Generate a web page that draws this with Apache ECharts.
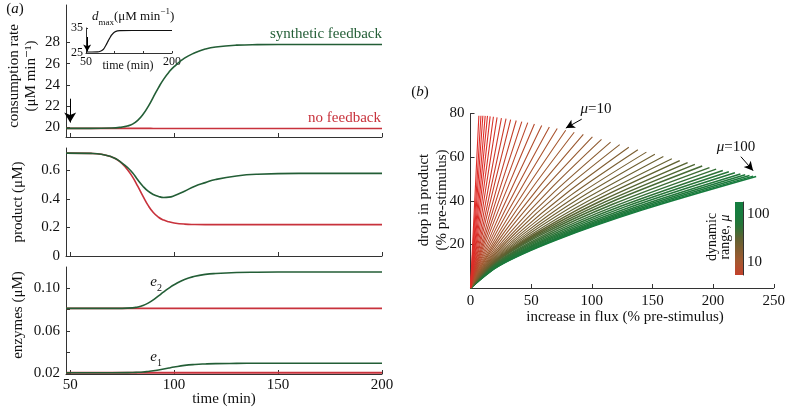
<!DOCTYPE html>
<html><head><meta charset="utf-8">
<script src="https://cdn.jsdelivr.net/npm/echarts@6/dist/echarts.min.js"></script>
<style>html,body{margin:0;padding:0;background:#fff}#c{width:788px;height:408px}</style>
</head><body><div id="c"></div>
<script>
// ---------- panel (a) data ----------
const tRate = [48,60,70,75,77.5,80,82.5,85,87.5,90,92.5,95,97.5,100,105,110,115,120,130,140,160,200];
const rateSynthetic = [19.9,19.9,19.93,20.02,20.12,20.3,20.65,21.2,21.95,22.85,23.75,24.55,25.2,25.72,26.52,27.03,27.38,27.58,27.75,27.8,27.82,27.82];
const rateNone = [19.9,19.9,19.9,19.9,19.9,19.9,19.9,19.9,19.9,19.89,19.89,19.88,19.88,19.88,19.88,19.88,19.88,19.88,19.88,19.88,19.88,19.88];

const tProd = [48,60,65,70,72.5,75,77.5,80,82.5,85,87.5,90,92.5,95,97.5,100,105,110,115,120,130,140,160,200];
const prodSynthetic = [0.722,0.72,0.714,0.695,0.678,0.652,0.622,0.585,0.535,0.49,0.455,0.432,0.418,0.411,0.413,0.423,0.455,0.49,0.515,0.537,0.562,0.574,0.58,0.58];
const prodNone = [0.722,0.72,0.714,0.695,0.677,0.648,0.607,0.555,0.49,0.42,0.355,0.305,0.272,0.252,0.24,0.232,0.224,0.221,0.22,0.22,0.22,0.22,0.22,0.22];

const tEnz = [48,70,80,82.5,85,87.5,90,92.5,95,97.5,100,105,110,115,120,130,140,160,200];
const e2Synthetic = [0.0812,0.0812,0.0817,0.0826,0.084,0.0862,0.0893,0.093,0.0968,0.1003,0.1035,0.1085,0.1115,0.1133,0.1142,0.1151,0.1154,0.1156,0.1156];
const e2None = [0.0812,0.0812,0.0812,0.0812,0.0812,0.0812,0.0812,0.0812,0.0812,0.0812,0.0812,0.0812,0.0812,0.0812,0.0812,0.0812,0.0812,0.0812,0.0812];
const e1Synthetic = [0.0205,0.0205,0.0207,0.0209,0.0212,0.0217,0.0223,0.0231,0.024,0.025,0.0259,0.0274,0.0283,0.0288,0.0291,0.0293,0.0294,0.0294,0.0294];
const e1None = [0.0204,0.0204,0.0204,0.0204,0.0204,0.0204,0.0204,0.0204,0.0204,0.0204,0.0204,0.0204,0.0204,0.0204,0.0204,0.0204,0.0204,0.0204,0.0204];

const tInset = [50,60,70,75,80,82.5,85,87.5,90,92.5,95,100,105,110,130,160,200];
const dmax = [25.4,25.4,25.45,25.7,26.4,27.2,28.2,29.3,30.4,31.4,32.3,33.4,33.85,33.95,34,34,34];

const rateTicks = [20,22,24,26,28];
const prodTicks = [0,0.2,0.4,0.6];
const enzTicks = [0.02,0.04,0.06,0.08,0.10];
const enzLabels = [0.02,0.06,0.10];
const timeTicks = [50,100,150,200];
const insetXLabels = [50,200];
const insetYLabels = [25,35];
const stimulusArrow = [[50,22.7],[50,20.45]];
const insetArrow = [[52,31.4],[52,25.6]];

// ---------- panel (b) data ----------
const mu = [2.0,2.19,2.39,2.61,2.85,3.12,3.41,3.72,4.07,4.45,4.86,5.31,5.81,6.35,6.94,7.58,8.29,9.06,9.9,10.8,11.8,12.9,14.1,15.5,16.9,18.5,20.2,22.0,24.1,26.3,28.8,31.5,34.4,37.6,41.1,44.9,49.0,53.6,58.6,64.0,70.0,76.5,83.6,91.3,100];
const endX = [6.9,8.6,10.2,12.1,14.0,16.2,18.9,21.9,25.5,29.3,33.1,37.7,42.3,47.2,52.7,58.7,65.0,71.5,78.5,85.5,93.0,100.5,108.0,115.5,123.0,130.5,138.0,145.0,152.0,159.0,166.0,172.5,179.0,185.0,191.0,197.0,202.5,208.0,213.0,218.0,222.5,226.5,230.0,233.0,235.5];
const endY = [79.0,79.0,79.0,78.9,78.9,78.7,78.5,78.2,77.9,77.6,77.2,76.8,76.3,75.8,75.2,74.5,73.8,73.1,72.3,71.4,70.4,69.3,68.1,66.9,65.7,64.5,63.4,62.3,61.3,60.3,59.3,58.4,57.5,56.7,55.9,55.2,54.5,53.9,53.3,52.8,52.3,51.9,51.6,51.3,51.1];
// y of each line read at 10 %, 30 % and 60 % of its horizontal extent
const y10 = [7.9,7.9,7.9,7.9,7.9,7.9,8.1,8.3,8.4,8.6,8.8,8.9,9.1,9.3,9.4,9.5,9.7,9.8,9.9,10.0,10.2,10.2,10.3,10.4,10.4,10.5,10.5,10.6,10.7,10.7,10.8,10.9,11.0,11.1,11.2,11.0,10.9,10.8,10.6,10.5,10.4,10.4,10.3,10.2,10.2];
const y30 = [23.7,23.7,23.7,23.7,23.7,23.7,24.0,24.2,24.4,24.6,24.8,24.9,25.1,25.2,25.4,25.4,25.5,25.6,25.6,25.6,25.6,25.5,25.3,25.2,25.1,24.9,24.8,24.7,24.6,24.5,24.4,24.3,24.3,24.2,24.1,23.8,23.5,23.2,22.9,22.7,22.5,22.3,22.2,22.1,22.0];
const y60 = [47.4,47.4,47.4,47.3,47.3,47.3,47.5,47.5,47.6,47.7,47.7,47.7,47.6,47.5,47.4,47.2,47.0,46.8,46.5,46.2,45.8,45.3,44.8,44.2,43.7,43.1,42.6,42.1,41.6,41.1,40.7,40.3,39.9,39.5,39.1,38.6,38.1,37.7,37.3,36.9,36.6,36.3,36.1,35.9,35.7];
const fluxTicks = [0,50,100,150,200,250];
const dropTicks = [0,20,40,60,80];
const dropLabels = [20,40,60,80];
const arrowMu10 = [[91.7,77.4],[78.6,73.3]];
const arrowMu100 = [[222.9,60.2],[233.0,53.8]];
const cbRange = [5.26, 181];
const cbLabels = [10, 100];
const cbMinor = [6,7,8,9,10,20,30,40,50,60,70,80,90,100];

// ---------- styling ----------
const FONT = "'Liberation Serif','DejaVu Serif','Times New Roman',serif";
const GREEN = '#235e36', RED = '#c8323c', AXC = '#333';
const cStops = [[Math.log10(3),[222,45,40]],[1,[165,88,48]],[1.5,[95,98,50]],[1.75,[40,116,56]],[2,[22,124,62]],[2.3,[20,126,64]]];
function muColor(m){
  const l = Math.log10(m);
  if (l <= cStops[0][0]) return 'rgb('+cStops[0][1].join(',')+')';
  for (let i=1;i<cStops.length;i++){
    if (l <= cStops[i][0]){
      const a=cStops[i-1], b=cStops[i], f=(l-a[0])/(b[0]-a[0]);
      return 'rgb('+a[1].map((v,j)=>Math.round(v+(b[1][j]-v)*f)).join(',')+')';
    }
  }
  return 'rgb('+cStops[cStops.length-1][1].join(',')+')';
}
const zip = (xs, ys) => xs.map((x,i)=>[x, ys[i]]);

function ax(o){
  return Object.assign({
    type:'value', gridIndex:o.grid, min:o.min, max:o.max,
    axisLine:{show:true, onZero:false, lineStyle:{color:AXC, width:1}},
    axisTick:{show:true, inside:true, length:o.tl||4, customValues:o.ticks, lineStyle:{color:AXC}},
    axisLabel:{show:!!o.labels, customValues:o.labels, fontFamily:FONT, fontSize:o.fs||15, color:'#111', margin:o.margin||5, formatter:o.fmt},
    splitLine:{show:false}
  }, o.extra||{});
}

const grids = [
  {left:66, top:5, width:316, height:132},
  {left:66, top:148, width:316, height:108},
  {left:66, top:267, width:316, height:107},
  {left:86, top:28, width:86, height:25},
  {left:470.5, top:113.5, width:306, height:174.5},
  {left:735, top:202, width:8, height:73}
];

const xAxes = [
  ax({grid:0, min:48, max:200, ticks:timeTicks}),
  ax({grid:1, min:48, max:200, ticks:timeTicks}),
  ax({grid:2, min:48, max:200, ticks:timeTicks, labels:timeTicks, margin:4}),
  ax({grid:3, min:50, max:200, ticks:[50,100,150,200], tl:2, labels:insetXLabels, fs:12, margin:3}),
  ax({grid:4, min:0, max:250, ticks:fluxTicks, labels:fluxTicks, margin:6}),
  {type:'value', gridIndex:5, min:0, max:1, show:false}
];
const yAxes = [
  ax({grid:0, min:19.085, max:31.54, ticks:rateTicks, labels:rateTicks, margin:6}),
  ax({grid:1, min:0, max:0.758, ticks:prodTicks, labels:prodTicks, margin:6, fmt:v=>String(v)}),
  ax({grid:2, min:0.0193, max:0.1203, ticks:enzTicks, labels:enzLabels, margin:6, fmt:v=>v.toFixed(2)}),
  ax({grid:3, min:25, max:35, ticks:[25,35], tl:2, labels:insetYLabels, fs:12, margin:3}),
  ax({grid:4, min:0, max:80, ticks:dropTicks, labels:dropLabels, margin:6}),
  ax({grid:5, min:Math.log10(cbRange[0]), max:Math.log10(cbRange[1]), ticks:cbMinor.map(v=>Math.log10(v)), tl:2.5,
      labels:cbLabels.map(v=>Math.log10(v)), margin:4, fmt:v=>String(Math.round(Math.pow(10,v))), extra:{position:'right'}})
];

function lineS(xi, data, color, w, extra){
  return Object.assign({type:'line', xAxisIndex:xi, yAxisIndex:xi, data, smooth:0.5,
    showSymbol:false, symbol:'none', silent:true, lineStyle:{color, width:w}}, extra||{});
}
function arrowML(pairs, size){
  return {silent:true, symbol:['none','arrow'], symbolSize:size, label:{show:false}, emphasis:{disabled:true},
    lineStyle:{color:'#000', width:1, type:'solid'},
    data: pairs.map(p=>[{coord:p[0]},{coord:p[1]}])};
}

const series = [
  lineS(0, zip(tRate, rateNone), RED, 1.6, {markLine: arrowML([stimulusArrow],[9,10])}),
  lineS(0, zip(tRate, rateSynthetic), GREEN, 1.6),
  lineS(1, zip(tProd, prodNone), RED, 1.6),
  lineS(1, zip(tProd, prodSynthetic), GREEN, 1.6),
  lineS(2, zip(tEnz, e2None), RED, 1.6),
  lineS(2, zip(tEnz, e1None), RED, 2),
  lineS(2, zip(tEnz, e2Synthetic), GREEN, 1.6),
  lineS(2, zip(tEnz, e1Synthetic), GREEN, 1.6),
  lineS(3, zip(tInset, dmax), '#111', 1.2, {markLine: arrowML([insetArrow],[6,7])})
];
for (let k = endX.length-1; k >= 0; k--) {
  const X = endX[k];
  series.push({type:'line', xAxisIndex:4, yAxisIndex:4, silent:true, showSymbol:false, symbol:'none',
    smooth:0.3,
    data:[[0,0],[X*0.1, y10[k]],[X*0.3, y30[k]],[X*0.6, y60[k]],[X, endY[k]]],
    lineStyle:{width: mu[k] > 30 ? 1.5 : 1.1, color:muColor(mu[k])}});
}
series[series.length-1].markLine = arrowML([arrowMu10, arrowMu100],[7,9]);

// colorbar
const lo = Math.log10(cbRange[0]), hi = Math.log10(cbRange[1]);
const cbStops = [];
for (let i=0;i<=20;i++){ const l = hi - (hi-lo)*i/20; cbStops.push({offset:i/20, color:muColor(Math.pow(10,l))}); }
series.push({type:'custom', xAxisIndex:5, yAxisIndex:5, silent:true, data:[[0, lo]],
  renderItem:(params, api)=>{
    const p0 = api.coord([0, hi]), p1 = api.coord([1, lo]);
    return {type:'rect', shape:{x:p0[0], y:p0[1], width:p1[0]-p0[0], height:p1[1]-p0[1]},
      style:{fill:new echarts.graphic.LinearGradient(0,0,0,1,cbStops)}};
  }});

// text annotations
function T(text, x, y, o){
  o = o||{};
  const st = {text, fill:o.fill||'#111', fontFamily:FONT, fontSize:o.fs||15, fontStyle:o.italic?'italic':'normal',
    align:o.align||'center', textAlign:o.align||'center', verticalAlign:'middle', textVerticalAlign:'middle'};
  if (o.lh) st.lineHeight = o.lh;
  if (o.rich) st.rich = o.rich;
  return {type:'text', x, y, rotation:o.rot||0, silent:true, z:100, style:st};
}
const R = (fs)=>({
  i:{fontFamily:FONT, fontSize:fs, fontStyle:'italic', lineHeight:fs+7},
  n:{fontFamily:FONT, fontSize:fs, lineHeight:fs+7},
  s:{fontFamily:FONT, fontSize:Math.round(fs*0.68), lineHeight:Math.round(fs*0.68), verticalAlign:'bottom'},
  p:{fontFamily:FONT, fontSize:Math.round(fs*0.68), lineHeight:Math.round(fs*0.68), verticalAlign:'top'}
});
const graphic = [
  T('{n|(}{i|a}{n|)}', 15, 9, {rich:R(15)}),
  T('{i|d}{s|max}{n|(μM min}{p|−1}{n|)}', 92, 17, {align:'left', rich:R(13)}),
  T('time (min)', 128, 66, {fs:12}),
  T('synthetic feedback', 382, 34, {align:'right', fill:GREEN}),
  T('no feedback', 381, 118, {align:'right', fill:RED}),
  T('consumption rate\n(μM min⁻¹)', 23, 76, {rot:Math.PI/2, lh:17}),
  T('product (μM)', 18, 202, {rot:Math.PI/2}),
  T('enzymes (μM)', 18, 315, {rot:Math.PI/2}),
  T('e', 153.5, 282, {italic:true}),
  T('2', 159.5, 288, {fs:10}),
  T('e', 153.5, 357.5, {italic:true}),
  T('1', 159.5, 363.5, {fs:10}),
  T('time (min)', 224, 399),
  T('{n|(}{i|b}{n|)}', 420, 92, {rich:R(15)}),
  T('drop in product\n(% pre-stimulus)', 433, 200, {rot:Math.PI/2, lh:18}),
  T('increase in flux (% pre-stimulus)', 625, 317),
  T('{i|μ}{n|=10}', 596, 109, {rich:R(15)}),
  T('{i|μ}{n|=100}', 736, 147, {rich:R(15)}),
  T('dynamic\n{n|range, }{i|μ}', 719, 237, {rot:Math.PI/2, fs:14, lh:12.5,
     rich:{n:{fontFamily:FONT, fontSize:14, lineHeight:12.5}, i:{fontFamily:FONT, fontSize:14, fontStyle:'italic', lineHeight:12.5}}})
];

const chart = echarts.init(document.getElementById('c'), null, {renderer:'canvas'});
chart.setOption({
  animation:false,
  backgroundColor:'#fff',
  textStyle:{fontFamily:FONT},
  grid:grids, xAxis:xAxes, yAxis:yAxes, series, graphic
});
</script></body></html>
